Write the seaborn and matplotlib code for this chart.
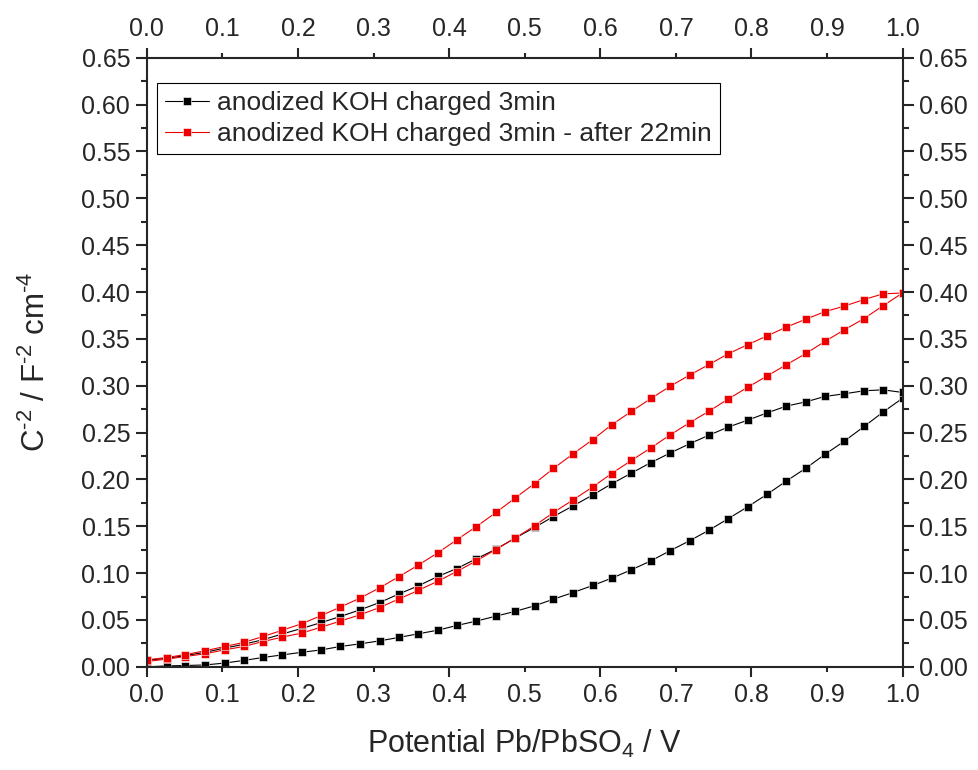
import pandas as pd
import matplotlib
matplotlib.use('Agg')
import matplotlib.pyplot as plt
from matplotlib.ticker import FixedLocator, FormatStrFormatter
import seaborn as sns

# potential grid (V vs Pb/PbSO4), same for both sweeps
potential = [0.000, 0.026, 0.051, 0.077, 0.103, 0.128, 0.154, 0.179, 0.205, 0.231,
             0.256, 0.282, 0.308, 0.333, 0.359, 0.385, 0.410, 0.436, 0.462, 0.487,
             0.513, 0.538, 0.564, 0.590, 0.615, 0.641, 0.667, 0.692, 0.718, 0.744,
             0.769, 0.795, 0.821, 0.846, 0.872, 0.897, 0.923, 0.949, 0.974, 1.000]

# anodized KOH charged 3min
black_fwd = [0.000, 0.001, 0.0014, 0.002, 0.004, 0.0068, 0.010, 0.0127, 0.0155, 0.0181,
             0.0217, 0.0245, 0.0277, 0.0313, 0.0352, 0.0391, 0.0441, 0.0488, 0.0541, 0.0591,
             0.0651, 0.0722, 0.0793, 0.0868, 0.0946, 0.1035, 0.1131, 0.1238, 0.1345, 0.1459,
             0.158, 0.1708, 0.1843, 0.1982, 0.212, 0.2266, 0.2409, 0.2565, 0.2718, 0.2867]
black_back = [0.007, 0.009, 0.012, 0.0155, 0.020, 0.024, 0.029, 0.035, 0.041, 0.0473,
              0.0537, 0.0608, 0.0686, 0.0776, 0.0864, 0.0964, 0.1049, 0.1153, 0.1256, 0.1373,
              0.1487, 0.1604, 0.1718, 0.1834, 0.1953, 0.2067, 0.218, 0.228, 0.238, 0.2473,
              0.2558, 0.2632, 0.2711, 0.2782, 0.2828, 0.2885, 0.2914, 0.2946, 0.2956, 0.2928]

# anodized KOH charged 3min - after 22min
red_fwd = [0.0057, 0.0082, 0.011, 0.0139, 0.0181, 0.0217, 0.027, 0.0317, 0.036, 0.0424,
           0.0488, 0.0555, 0.0633, 0.0722, 0.0815, 0.0914, 0.1017, 0.1131, 0.1252, 0.1373,
           0.1505, 0.1647, 0.1782, 0.192, 0.2063, 0.2202, 0.2337, 0.2473, 0.2604, 0.2729,
           0.2857, 0.2983, 0.3106, 0.3223, 0.3344, 0.3472, 0.3597, 0.3717, 0.3853, 0.399]
red_back = [0.0075, 0.0099, 0.0131, 0.0171, 0.0217, 0.026, 0.0324, 0.039, 0.046, 0.0548,
            0.0637, 0.0733, 0.0843, 0.096, 0.1085, 0.1217, 0.1355, 0.1497, 0.1647, 0.18,
            0.1956, 0.2117, 0.2273, 0.2425, 0.2583, 0.2725, 0.2864, 0.2992, 0.3113, 0.3227,
            0.334, 0.3438, 0.3533, 0.3625, 0.371, 0.379, 0.385, 0.392, 0.398, 0.399]

labels = ['anodized KOH charged 3min', 'anodized KOH charged 3min - after 22min']
colors = ['black', '#ee0000']

sns.set_style('ticks')
plt.rcParams['font.family'] = ['Liberation Sans', 'DejaVu Sans']
plt.rcParams['mathtext.fontset'] = 'custom'
plt.rcParams['mathtext.rm'] = 'Liberation Sans'
plt.rcParams['mathtext.it'] = 'Liberation Sans'
plt.rcParams['axes.linewidth'] = 1.5

# loop: forward sweep then back sweep
def loop_frame(fwd, back, name):
    return pd.DataFrame({'potential': potential + potential[::-1],
                         'C2': fwd + back[::-1],
                         'series': name})

df_black = loop_frame(black_fwd, black_back, labels[0])
df_red = loop_frame(red_fwd, red_back, labels[1])

fig, ax = plt.subplots(figsize=(9.79, 7.70), dpi=100)
fig.subplots_adjust(left=0.150, right=0.922, top=0.925, bottom=0.134)

for d, c, lab in [(df_black, colors[0], labels[0]), (df_red, colors[1], labels[1])]:
    sns.lineplot(data=d, x='potential', y='C2', sort=False, estimator=None,
                 color=c, label=lab, lw=0.8, marker='s', markersize=6.3,
                 markeredgewidth=0.4, ax=ax)

ax.set_xlim(0, 1.0)
ax.set_ylim(0, 0.65)

# x: long ticks every 0.2, short ticks between, all labelled
ax.xaxis.set_major_locator(FixedLocator([0.0, 0.2, 0.4, 0.6, 0.8, 1.0]))
ax.xaxis.set_minor_locator(FixedLocator([0.1, 0.3, 0.5, 0.7, 0.9]))
ax.xaxis.set_major_formatter(FormatStrFormatter('%.1f'))
ax.xaxis.set_minor_formatter(FormatStrFormatter('%.1f'))
ax.yaxis.set_major_locator(FixedLocator([i * 0.05 for i in range(14)]))
ax.yaxis.set_minor_locator(FixedLocator([0.025 + i * 0.05 for i in range(13)]))
ax.yaxis.set_major_formatter(FormatStrFormatter('%.2f'))

ax.tick_params(axis='both', which='both', direction='out', top=True, right=True,
               labeltop=True, labelright=True, labelsize=18, width=1.5)
ax.tick_params(axis='x', which='major', length=7, pad=5)
ax.tick_params(axis='x', which='minor', length=3.5, pad=8.5)
ax.tick_params(axis='y', which='major', length=8, pad=4)
ax.tick_params(axis='y', which='minor', length=4)

ax.set_xlabel(r'Potential Pb/PbSO$_4$ / V', fontsize=22, labelpad=15)
ax.set_ylabel(r'C$^{\text{-}2}$ / F$^{\text{-}2}$ cm$^{\text{-}4}$', fontsize=22.5, labelpad=21)

leg = ax.legend(loc='upper left', bbox_to_anchor=(0.013, 0.958), fontsize=19,
                frameon=True, fancybox=False, edgecolor='black', framealpha=1,
                handlelength=1.7, handletextpad=0.3, borderpad=0.3,
                labelspacing=0.25, borderaxespad=0)
leg.get_frame().set_linewidth(0.8)

plt.savefig('out.png', dpi=100)
